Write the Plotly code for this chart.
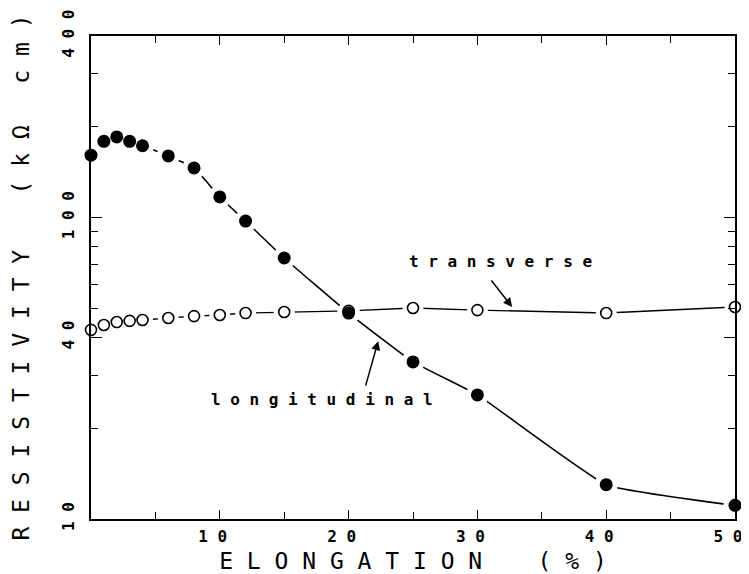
import math
import plotly.graph_objects as go

# Elongation (%) and resistivity (kOhm cm)
elong_long = [0, 1, 2, 3, 4, 6, 8, 10, 12, 15, 20, 25, 30, 40, 50]
rho_long = [161, 179, 185, 179, 173, 160, 146, 117, 97.3, 73.4, 48.2, 33.2, 25.8, 13.0, 11.1]

elong_trans = [0, 1, 2, 3, 4, 6, 8, 10, 12, 15, 20, 25, 30, 40, 50]
rho_trans = [42.4, 44.0, 45.0, 45.4, 45.7, 46.4, 47.1, 47.5, 48.2, 48.6, 49.0, 50.1, 49.3, 48.2, 50.5]

x_tickvals = [10, 20, 30, 40, 50]
x_ticktext = ["1 0", "2 0", "3 0", "4 0", "5 0"]
y_tickvals = [10, 40, 100, 400]
y_ticktext = ["1 0", "4 0", "1 0 0", "4 0 0"]
y_minor = [20, 30, 50, 60, 70, 80, 90, 200, 300]

FONT = "DejaVu Sans Mono"

fig = go.Figure()

# connecting curves
fig.add_trace(go.Scatter(x=elong_long, y=rho_long, mode="lines",
                         line=dict(color="black", width=1.6, shape="spline", smoothing=0.35),
                         cliponaxis=False, hoverinfo="skip"))
fig.add_trace(go.Scatter(x=elong_trans, y=rho_trans, mode="lines",
                         line=dict(color="black", width=1.4, shape="linear"),
                         cliponaxis=False, hoverinfo="skip"))
# white halos to break the lines around the markers (plotter style)
fig.add_trace(go.Scatter(x=elong_trans, y=rho_trans, mode="markers",
                         marker=dict(color="white", size=21, line=dict(width=0)),
                         cliponaxis=False, hoverinfo="skip"))
fig.add_trace(go.Scatter(x=elong_long, y=rho_long, mode="markers",
                         marker=dict(color="white", size=23, line=dict(width=0)),
                         cliponaxis=False, hoverinfo="skip"))
# markers
fig.add_trace(go.Scatter(x=elong_trans, y=rho_trans, mode="markers", name="transverse",
                         marker=dict(color="white", size=11, symbol="circle",
                                     line=dict(color="black", width=1.6)),
                         cliponaxis=False))
fig.add_trace(go.Scatter(x=elong_long, y=rho_long, mode="markers", name="longitudinal",
                         marker=dict(color="black", size=13, symbol="circle",
                                     line=dict(color="black", width=0)),
                         cliponaxis=False))

# labels with arrows (log axis: annotation y given in log10 units)
fig.add_annotation(x=31.8, y=math.log10(71.2), text="t r a n s v e r s e", showarrow=False,
                   font=dict(family=FONT, size=16, color="black", weight="bold"))
fig.add_annotation(x=32.7, y=math.log10(50.5), text="", showarrow=True, ax=-22, ay=-28,
                   arrowhead=2, arrowsize=1.2, arrowwidth=1.5, arrowcolor="black")
fig.add_annotation(x=17.9, y=math.log10(25.0), text="l o n g i t u d i n a l", showarrow=False,
                   font=dict(family=FONT, size=16, color="black", weight="bold"))
fig.add_annotation(x=22.3, y=math.log10(38.9), text="", showarrow=True, ax=-13, ay=46,
                   arrowhead=2, arrowsize=1.2, arrowwidth=1.5, arrowcolor="black")

fig.update_layout(
    width=749, height=566,
    margin=dict(l=83, r=22, t=28, b=55),
    paper_bgcolor="white", plot_bgcolor="white",
    showlegend=False,
    font=dict(family=FONT, color="black"),
    xaxis=dict(
        range=[0, 50], tickvals=x_tickvals, ticktext=x_ticktext,
        ticks="inside", ticklen=9, tickwidth=1.3, tickcolor="black",
        minor=dict(dtick=5, tick0=0, ticks="inside", ticklen=7, tickwidth=1.2, tickcolor="black"),
        showline=True, linecolor="black", linewidth=1.6, mirror="ticks",
        showgrid=False, zeroline=False, automargin=False,
        ticklabeloverflow="allow", ticklabelshift=-7,
        tickfont=dict(family=FONT, size=16, color="black", weight="bold"),
        ticklabelstandoff=2,
        title=dict(text="E L O N G A T I O N    ( % )", standoff=8,
                   font=dict(family=FONT, size=23, color="black")),
    ),
    yaxis=dict(
        type="log", range=[1, 2.60206], tickvals=y_tickvals, ticktext=y_ticktext,
        ticks="inside", ticklen=11, tickwidth=1.3, tickcolor="black",
        minor=dict(tickvals=y_minor, ticks="inside", ticklen=7, tickwidth=1.2, tickcolor="black"),
        showline=True, linecolor="black", linewidth=1.6, mirror="ticks",
        showgrid=False, zeroline=False, automargin=False,
        ticklabeloverflow="allow",
        tickangle=-90,
        tickfont=dict(family=FONT, size=16, color="black", weight="bold"),
        ticklabelstandoff=9,
        title=dict(text="R E S I S T I V I T Y    ( k Ω   c m )", standoff=26,
                   font=dict(family=FONT, size=23, color="black")),
    ),
)

fig.write_html("out.html")
